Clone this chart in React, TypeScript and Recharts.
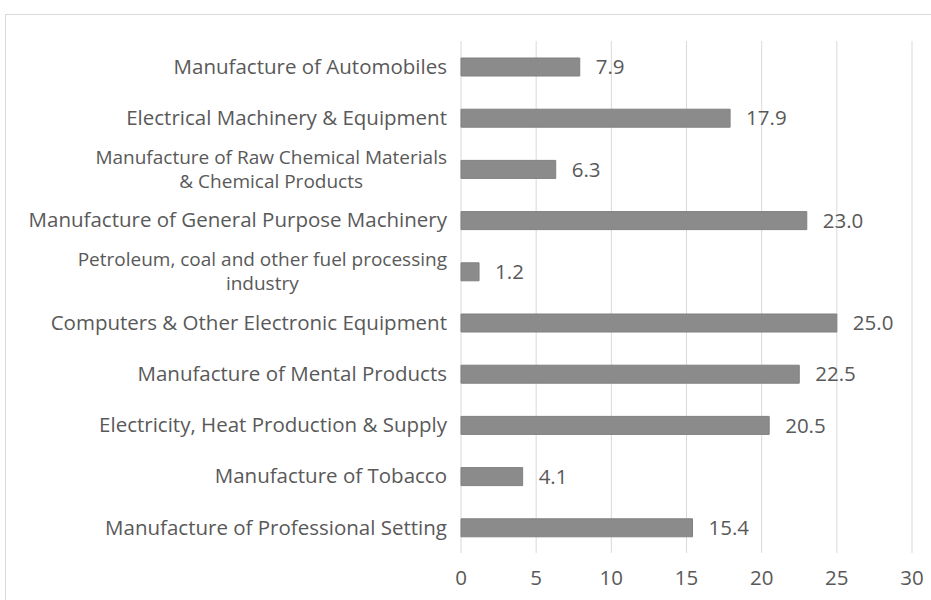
import React from "react";
import {
  BarChart,
  Bar,
  XAxis,
  YAxis,
  CartesianGrid,
  LabelList,
} from "recharts";

// categories top to bottom, as they appear in the chart ("\n" = Excel's wrap)
const categories = [
  "Manufacture of Automobiles",
  "Electrical Machinery & Equipment",
  "Manufacture of Raw Chemical Materials\n& Chemical Products",
  "Manufacture of General Purpose Machinery",
  "Petroleum, coal and other fuel processing\nindustry",
  "Computers & Other Electronic Equipment",
  "Manufacture of Mental Products",
  "Electricity, Heat Production & Supply",
  "Manufacture of Tobacco",
  "Manufacture of Professional Setting",
];

const values = [7.9, 17.9, 6.3, 23.0, 1.2, 25.0, 22.5, 20.5, 4.1, 15.4];

const xTicks = [0, 5, 10, 15, 20, 25, 30];

const FONT = "'Open Sans', 'Noto Sans', sans-serif";
const FONT_SIZE = 20.5;
const TEXT = "#595959";

const chartData = categories.map((name, i) => ({ name, value: values[i] }));

let ctx: CanvasRenderingContext2D | null = null;
function measure(s: string, size: number) {
  if (!ctx) {
    const c = document.createElement("canvas");
    ctx = c.getContext("2d");
  }
  if (!ctx) return s.length * size * 0.5;
  ctx.font = `${size}px ${FONT}`;
  return ctx.measureText(s).width;
}

function CategoryTick(props: any) {
  const { x, y, payload } = props;
  const lines = String(payload.value).split("\n");
  // wrapped labels are set a touch smaller so the two lines don't collide
  const size = lines.length > 1 ? 19 : FONT_SIZE;
  const maxW = Math.max(...lines.map((l) => measure(l, size)));
  // block is right aligned, lines centred inside it
  const cx = x - maxW / 2;
  const lineH = 24;
  const startY = y - ((lines.length - 1) * lineH) / 2;
  return (
    <g>
      {lines.map((ln, i) => (
        <text
          key={i}
          x={cx}
          y={startY + i * lineH}
          dy="0.35em"
          textAnchor="middle"
          fill={TEXT}
          fontSize={size}
          fontFamily={FONT}
        >
          {ln}
        </text>
      ))}
    </g>
  );
}

export default function App() {
  return (
    <div
      style={{
        position: "absolute",
        left: 0,
        top: 0,
        width: 931,
        height: 600,
        overflow: "hidden",
        background: "#fff",
      }}
    >
      {/* chart frame, runs off the right and bottom edge */}
      <div
        style={{
          position: "absolute",
          left: 5,
          top: 14,
          width: 1000,
          height: 700,
          border: "1px solid #d9d9d9",
        }}
      />
      <div style={{ position: "absolute", left: 0, top: 0 }}>
        <BarChart
          width={931}
          height={600}
          data={chartData}
          layout="vertical"
          margin={{ top: 41, right: 19, left: 5, bottom: 17 }}
          barSize={18}
        >
          <CartesianGrid horizontal={false} stroke="#d9d9d9" />
          <XAxis
            type="number"
            domain={[0, 30]}
            ticks={xTicks}
            axisLine={false}
            tickLine={false}
            tickMargin={11}
            height={30}
            tick={{ fill: TEXT, fontSize: FONT_SIZE, fontFamily: FONT }}
            interval={0}
          />
          <YAxis
            type="category"
            dataKey="name"
            width={456}
            axisLine={false}
            tickLine={false}
            tickMargin={8}
            interval={0}
            tick={<CategoryTick />}
          />
          <Bar
            dataKey="value"
            fill="#8b8b8b"
            stroke="#808080"
            strokeWidth={1}
            isAnimationActive={false}
          >
            <LabelList
              dataKey="value"
              position="right"
              offset={16}
              fill={TEXT}
              fontSize={FONT_SIZE}
              fontFamily={FONT}
              formatter={(v: any) => Number(v).toFixed(1)}
            />
          </Bar>
        </BarChart>
      </div>
    </div>
  );
}
